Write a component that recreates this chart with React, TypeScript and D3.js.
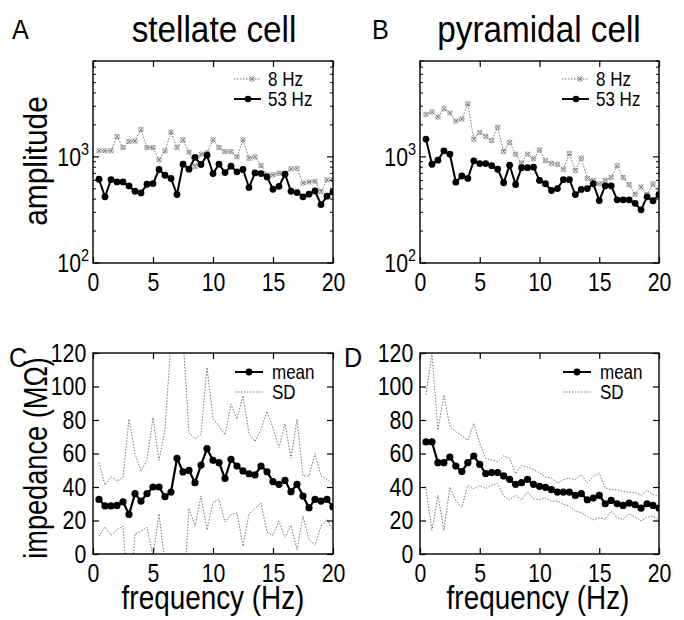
import React from 'react';
import * as d3 from 'd3';

// frequency of each sample (Hz)
const freqs = [0.5, 1, 1.5, 2, 2.5, 3, 3.5, 4, 4.5, 5, 5.5, 6, 6.5, 7, 7.5, 8, 8.5, 9, 9.5, 10,
  10.5, 11, 11.5, 12, 12.5, 13, 13.5, 14, 14.5, 15, 15.5, 16, 16.5, 17, 17.5, 18, 18.5, 19, 19.5, 20];

// A: stellate cell amplitude
const stellate8 = [1140, 1140, 1140, 1555, 1224, 1394, 1410, 1810, 1224, 1224, 937, 1140, 1710, 1224, 1446, 1107, 810, 1060, 1090, 1446,
  1224, 1120, 1120, 1000, 1446, 970, 1000, 828, 677, 677, 700, 690, 770, 780, 565, 580, 590, 470, 607, 607];
const stellate53 = [615, 420, 610, 580, 580, 532, 474, 457, 552, 560, 760, 671, 625, 442, 853, 765, 990, 847, 1036, 696,
  853, 711, 817, 722, 760, 514, 706, 696, 647, 495, 528, 686, 474, 461, 420, 445, 477, 355, 426, 468];

// B: pyramidal cell amplitude
const pyramidal8 = [2511, 2650, 2370, 2845, 2590, 2174, 2270, 3160, 1470, 1700, 1560, 1420, 1904, 1125, 1375, 1060, 870, 1060, 957, 1165,
  918, 870, 852, 764, 1075, 746, 973, 627, 600, 557, 600, 640, 825, 640, 549, 444, 520, 441, 557, 441];
const pyramidal53 = [1470, 852, 930, 1140, 1060, 578, 660, 627, 918, 865, 865, 825, 764, 570, 834, 549, 790, 790, 800, 600,
  558, 482, 503, 610, 610, 441, 493, 503, 558, 387, 533, 533, 394, 394, 394, 365, 317, 420, 386, 441];

// C: stellate impedance (MΩ)
const stellateMean = [32.6, 28.7, 28.7, 29.0, 31.2, 23.6, 36.0, 31.6, 36.0, 40.0, 40.0, 34.2, 37.0, 57.1, 49.0, 49.9, 42.6, 53.1, 62.9, 55.9,
  54.5, 45.1, 56.5, 52.5, 49.6, 47.9, 47.2, 52.5, 49.1, 43.2, 41.6, 43.9, 37.2, 41.6, 34.6, 27.6, 32.6, 31.6, 32.6, 28.1];
const stellateSD = [22, 12.5, 17.5, 14.5, 14.5, 57, 24, 18, 20, 41.5, 16, 40, 90, 75, 80, 22.5, 26, 18.5, 48.5, 25,
  22, 26, 33, 28, 45, 24, 20, 22, 36, 32, 22, 34, 20, 39, 12, 19, 27.4, 15, 12, 14];

// D: pyramidal impedance (MΩ)
const pyramidalMean = [66.9, 66.9, 54.5, 54.5, 57.9, 52.5, 49.2, 54.5, 58.5, 53.5, 48.0, 48.6, 48.6, 46.6, 44.6, 41.6, 42.6, 44.6, 41.6, 40.4,
  39.8, 38.4, 37.0, 37.0, 37.0, 35.0, 36.0, 32.4, 33.4, 35.0, 30.0, 32.0, 30.0, 29.0, 30.4, 29.4, 27.4, 30.0, 29.0, 27.4];
const pyramidalSD = [28, 53, 19.5, 40.5, 18, 20.5, 21.4, 13.5, 19.5, 12.5, 9, 7.5, 6.5, 12, 12.4, 6.4, 10.4, 7.4, 8.7, 8,
  6.2, 7, 5.4, 7.4, 8.3, 9.4, 11.3, 10, 13, 13.3, 9.4, 6.4, 8.4, 8.4, 6.4, 7.4, 7.6, 8, 6.4, 7.4];

const xTicks = [0, 5, 10, 15, 20];
const impTicks = [0, 20, 40, 60, 80, 100, 120];
const ampMajor = [100, 1000];

const FONT = "'Liberation Sans', Arial, sans-serif";
const GREY = '#777';
const SQUEEZE = 0.85; // the original lettering is condensed

// text squeezed horizontally, optionally rotated
const NText = ({ x, y, size, anchor = 'start', sx = SQUEEZE, rotate = 0, children }) => (
  <text transform={`translate(${x},${y}) rotate(${rotate}) scale(${sx},1)`} fontSize={size} textAnchor={anchor}>
    {children}
  </text>
);

const styleAxis = (g, labels) => {
  g.select('.domain').remove();
  g.attr('font-family', FONT).attr('font-size', 25);
  g.selectAll('line').attr('stroke', '#000').attr('stroke-width', 1.2);
  if (!labels) g.selectAll('text').remove();
  else g.selectAll('text').attr('transform', `scale(${SQUEEZE},1)`);
};

const Frame = ({ x, y, id, children }) => {
  const [l, r] = x.range();
  const [b, t] = y.range();
  return (
    <g>
      <clipPath id={id}>
        <rect x={l} y={t} width={r - l} height={b - t} />
      </clipPath>
      <g clipPath={`url(#${id})`}>{children}</g>
      <rect x={l} y={t} width={r - l} height={b - t} fill="none" stroke="#000" strokeWidth={1.4} />
      <g transform={`translate(0,${b})`}
        ref={(n) => { if (n) styleAxis(d3.select(n).call(d3.axisBottom(x).tickValues(xTicks).tickSize(-6).tickPadding(10)), true); }} />
      <g transform={`translate(0,${t})`}
        ref={(n) => { if (n) styleAxis(d3.select(n).call(d3.axisTop(x).tickValues(xTicks).tickSize(-6)), false); }} />
    </g>
  );
};

const crossMark = d3.symbol(d3.symbolX, 16)();

const AmpPanel = ({ left, right, s8, s53, legX, id }) => {
  const x = d3.scaleLinear().domain([0, 20]).range([left, right]);
  const y = d3.scaleLog().domain([100, 8000]).range([263, 61]);
  const line = d3.line<number>().x((_, i) => x(freqs[i])).y((d) => y(d));
  const minor = y.ticks().filter((v) => !ampMajor.includes(v));
  return (
    <g>
      <Frame x={x} y={y} id={id}>
        <path d={line(s8) || ''} fill="none" stroke={GREY} strokeWidth={1} strokeDasharray="1.5,1.5" />
        {s8.map((d, i) => (
          <g key={i} transform={`translate(${x(freqs[i])},${y(d)})`}>
            <path d={crossMark} stroke={GREY} strokeWidth={0.9} fill="none" />
            <circle r={2.3} fill="none" stroke={GREY} strokeWidth={0.6} />
          </g>
        ))}
        <path d={line(s53) || ''} fill="none" stroke="#000" strokeWidth={2} />
        {s53.map((d, i) => <circle key={i} cx={x(freqs[i])} cy={y(d)} r={3.4} fill="#000" />)}
      </Frame>
      {minor.map((v) => (
        <g key={v}>
          <line x1={left} x2={left + 3} y1={y(v)} y2={y(v)} stroke="#000" />
          <line x1={right} x2={right - 3} y1={y(v)} y2={y(v)} stroke="#000" />
        </g>
      ))}
      {ampMajor.map((v) => (
        <g key={v}>
          <line x1={left} x2={left + 6} y1={y(v)} y2={y(v)} stroke="#000" strokeWidth={1.2} />
          <line x1={right} x2={right - 6} y1={y(v)} y2={y(v)} stroke="#000" strokeWidth={1.2} />
          <NText x={left - 4} y={y(v) + 9} size={25} anchor="end">
            10<tspan dy={-11} fontSize={17}>{Math.round(Math.log10(v))}</tspan>
          </NText>
        </g>
      ))}
      <g>
        <line x1={legX} x2={legX + 27} y1={79} y2={79} stroke={GREY} strokeDasharray="1.5,1.5" />
        <g transform={`translate(${legX + 18},79)`}>
          <path d={crossMark} stroke={GREY} strokeWidth={0.9} fill="none" />
          <circle r={2.3} fill="none" stroke={GREY} strokeWidth={0.6} />
        </g>
        <NText x={legX + 34} y={86} size={20}>8 Hz</NText>
        <line x1={legX} x2={legX + 27} y1={99} y2={99} stroke="#000" strokeWidth={2} />
        <circle cx={legX + 14} cy={99} r={3.3} fill="#000" />
        <NText x={legX + 34} y={106} size={20}>53 Hz</NText>
      </g>
    </g>
  );
};

const ImpPanel = ({ left, right, mean, sd, legX, id }) => {
  const x = d3.scaleLinear().domain([0, 20]).range([left, right]);
  const y = d3.scaleLinear().domain([0, 120]).range([554, 353]);
  const line = d3.line<number>().x((_, i) => x(freqs[i])).y((d) => y(d));
  const upper = mean.map((m, i) => m + sd[i]);
  const lower = mean.map((m, i) => m - sd[i]);
  return (
    <g>
      <Frame x={x} y={y} id={id}>
        <path d={line(upper) || ''} fill="none" stroke={GREY} strokeWidth={1} strokeDasharray="1.5,1.5" />
        <path d={line(lower) || ''} fill="none" stroke={GREY} strokeWidth={1} strokeDasharray="1.5,1.5" />
        <path d={line(mean) || ''} fill="none" stroke="#000" strokeWidth={2.2} />
        {mean.map((d, i) => <circle key={i} cx={x(freqs[i])} cy={y(d)} r={3.6} fill="#000" />)}
      </Frame>
      <g transform={`translate(${left},0)`}
        ref={(n) => { if (n) styleAxis(d3.select(n).call(d3.axisLeft(y).tickValues(impTicks).tickSize(-6).tickPadding(8)), true); }} />
      <g transform={`translate(${right},0)`}
        ref={(n) => { if (n) styleAxis(d3.select(n).call(d3.axisRight(y).tickValues(impTicks).tickSize(-6)), false); }} />
      <g>
        <line x1={legX} x2={legX + 28} y1={372} y2={372} stroke="#000" strokeWidth={2} />
        <circle cx={legX + 14} cy={372} r={3.4} fill="#000" />
        <NText x={legX + 37} y={379} size={20}>mean</NText>
        <line x1={legX} x2={legX + 28} y1={392} y2={392} stroke={GREY} strokeDasharray="1.5,1.5" />
        <NText x={legX + 37} y={399} size={20}>SD</NText>
      </g>
    </g>
  );
};

export default function App() {
  return (
    <svg width={684} height={620} style={{ position: 'absolute', left: 0, top: 0, background: '#fff' }}
      fontFamily={FONT}>
      <NText x={12} y={39} size={28} sx={0.9}>A</NText>
      <NText x={214} y={42} size={37} anchor="middle" sx={0.9}>stellate cell</NText>
      <NText x={372} y={39} size={28} sx={0.9}>B</NText>
      <NText x={539} y={42} size={37} anchor="middle" sx={0.9}>pyramidal cell</NText>
      <NText x={9} y={367} size={28} sx={0.9}>C</NText>
      <NText x={344} y={367} size={28} sx={0.9}>D</NText>
      <NText x={47} y={161} size={34} anchor="middle" rotate={-90} sx={0.88}>amplitude</NText>
      <NText x={47} y={458} size={34} anchor="middle" rotate={-90} sx={0.8}>impedance (MΩ)</NText>
      <NText x={213} y={609} size={34} anchor="middle" sx={0.82}>frequency (Hz)</NText>
      <NText x={538} y={609} size={34} anchor="middle" sx={0.82}>frequency (Hz)</NText>
      <AmpPanel left={93} right={333} s8={stellate8} s53={stellate53} legX={234} id="clipA" />
      <AmpPanel left={420} right={659} s8={pyramidal8} s53={pyramidal53} legX={562} id="clipB" />
      <ImpPanel left={93} right={333} mean={stellateMean} sd={stellateSD} legX={235} id="clipC" />
      <ImpPanel left={420} right={659} mean={pyramidalMean} sd={pyramidalSD} legX={563} id="clipD" />
    </svg>
  );
}
